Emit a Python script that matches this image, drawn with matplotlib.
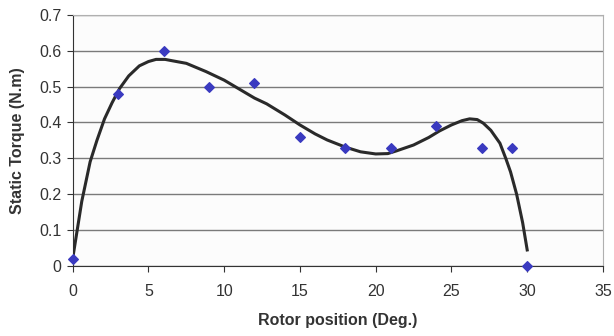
import matplotlib.pyplot as plt

plt.rcParams['font.family'] = ['Liberation Sans', 'DejaVu Sans']

# measured points
pos = [0, 3, 6, 9, 12, 15, 18, 21, 24, 27, 29, 30]
torque = [0.02, 0.48, 0.60, 0.50, 0.51, 0.36, 0.33, 0.33, 0.39, 0.33, 0.33, 0.0]

# trend line
fit_x = [0, 0.3, 0.6, 0.9, 1.15, 1.6, 2.1, 2.6, 3.1, 3.7, 4.4, 5.0, 5.5,
         6.1, 6.6, 7.5, 8.8, 10.0, 11.0, 12.0, 12.8, 14.0, 15.0, 16.0,
         16.8, 18.0, 19.0, 20.0, 20.8, 21.4, 22.5, 23.5, 24.2, 25.0,
         25.7, 26.2, 26.7, 27.1, 27.6, 28.2, 28.6, 28.9, 29.3, 29.7, 30.0]
fit_y = [0.02, 0.10, 0.18, 0.24, 0.29, 0.35, 0.41, 0.455, 0.495, 0.53,
         0.558, 0.57, 0.576, 0.576, 0.572, 0.565, 0.542, 0.518, 0.493,
         0.468, 0.452, 0.421, 0.393, 0.368, 0.351, 0.331, 0.318, 0.312,
         0.313, 0.321, 0.337, 0.358, 0.376, 0.393, 0.405, 0.41, 0.408,
         0.398, 0.378, 0.342, 0.298, 0.262, 0.20, 0.12, 0.044]

fig = plt.figure(figsize=(6.14, 3.36), dpi=100)
ax = fig.add_axes([0.1184, 0.2092, 0.8636, 0.7462])
ax.set_facecolor('#fcfcfc')

ax.plot(fit_x, fit_y, color='#2a2a2a', lw=2.2, zorder=3)
ax.scatter(pos, torque, marker='D', s=24, color='#3a3ac0', zorder=4,
           clip_on=False)

ax.set_xlim(0, 35)
ax.set_ylim(0, 0.7)
ax.set_xticks(range(0, 36, 5))
ax.set_yticks([0, 0.1, 0.2, 0.3, 0.4, 0.5, 0.6, 0.7])
ax.set_yticklabels(['0', '0.1', '0.2', '0.3', '0.4', '0.5', '0.6', '0.7'])
ax.yaxis.grid(True, color='#7a7a7a', lw=1.0)
ax.set_axisbelow(True)

for s in ['top', 'right']:
    ax.spines[s].set_color('#b0b0b0')
for s in ['left', 'bottom']:
    ax.spines[s].set_color('#333333')
ax.tick_params(axis='both', colors='#333333', labelcolor='#333333',
               labelsize=11.5, length=4, direction='out')
ax.tick_params(axis='x', pad=9)
ax.tick_params(axis='y', pad=4)

ax.set_xlabel('Rotor position (Deg.)', fontsize=11.5, fontweight='bold',
              color='#333333', labelpad=10)
ax.set_ylabel('Static Torque (N.m)', fontsize=11.5, fontweight='bold',
              color='#333333', labelpad=10)

fig.savefig('out.png', dpi=100)
